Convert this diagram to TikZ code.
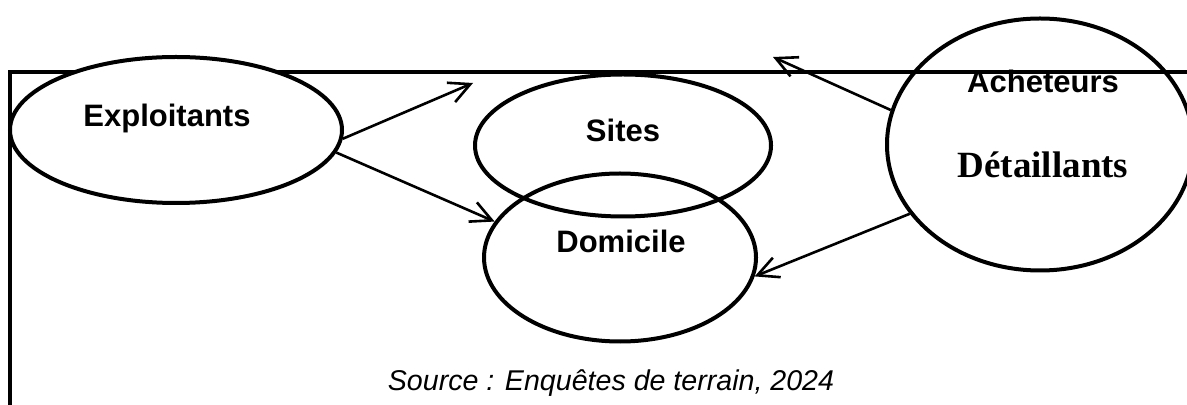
\documentclass[tikz,border=0pt]{standalone}
\usepackage{fontspec}
\setmainfont{Liberation Sans}
\newfontfamily\timesbold{Liberation Serif}
\usetikzlibrary{shapes.geometric, arrows.meta}

\begin{document}
\begin{tikzpicture}[x=0.5pt, y=-0.5pt,
  bulle/.style={draw, ellipse, line width=2pt, inner sep=0pt},
  fleche/.style={line width=1.3pt, -{Straight Barb[length=10.5pt, width=10.5pt, line width=1.3pt]}},
  etiq/.style={anchor=base, inner sep=0pt, font=\fontsize{15.5}{18}\selectfont\bfseries}]
  \useasboundingbox (0,0) rectangle (1187,405);

  % Frame
  \draw[line width=2.2pt] (1187,72) -- (10,72) -- (10,405);

  % Ellipses
  \node[bulle, fill=white, minimum width=166pt, minimum height=73pt] (expl) at (176,130) {};
  \node[bulle, minimum width=148pt, minimum height=71pt] (sites) at (623,145.5) {};
  \node[bulle, minimum width=136pt, minimum height=84pt] (dom) at (620,257.5) {};
  \node[bulle, minimum width=153pt, minimum height=126pt] (ach) at (1040,144.5) {};

  % Labels
  \node[etiq] (lexpl) at (167,127) {Exploitants};
  \node[etiq] (lsites) at (623,142) {Sites};
  \node[etiq] (ldom) at (621,253) {Domicile};
  \node[etiq] (lach) at (1043,93) {Acheteurs};
  \node[etiq, font=\fontsize{18.5}{22}\timesbold\bfseries] (ldet) at (1043,178) {Détaillants};

  % Free ends
  \coordinate (versSites) at (473,83);
  \coordinate (versHaut) at (773,57);

  % Arrows
  \draw[fleche] (expl.-3) -- (versSites);
  \draw[fleche] (expl.-8) -- (dom.164);
  \draw[fleche] (ach.167) -- (versHaut);
  \draw[fleche] (ach.208) -- (dom.-8);

  % Source
  \node[anchor=base, inner sep=0pt, font=\fontsize{14.3}{17}\selectfont\itshape] (src) at (611,390)
    {Source : Enquêtes de terrain, 2024};
\end{tikzpicture}
\end{document}
